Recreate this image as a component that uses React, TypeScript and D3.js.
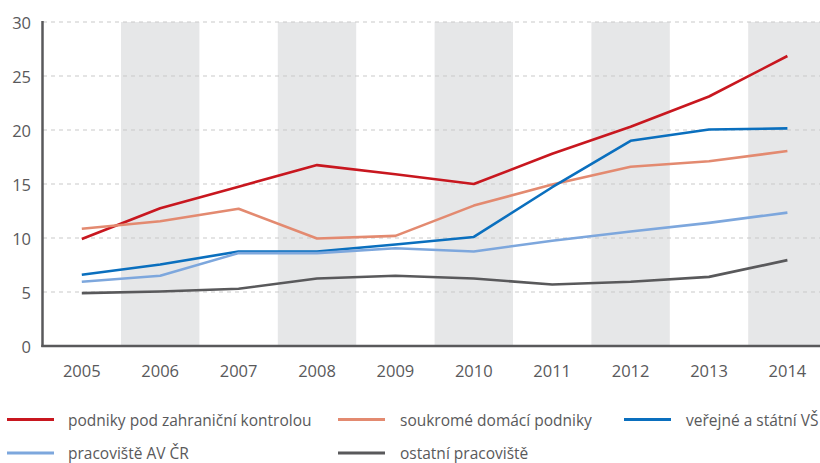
import React from "react";
import * as d3 from "d3";

const years = ["2005","2006","2007","2008","2009","2010","2011","2012","2013","2014"];
const yTicks = [0, 5, 10, 15, 20, 25, 30];

const foreign = [9.9, 12.75, 14.75, 16.75, 15.9, 15.0, 17.8, 20.3, 23.1, 26.85];
const domestic = [10.85, 11.55, 12.7, 9.95, 10.2, 13.0, 14.95, 16.6, 17.1, 18.05];
const universities = [6.6, 7.55, 8.75, 8.75, 9.4, 10.1, 14.7, 19.0, 20.05, 20.15];
const academy = [5.95, 6.5, 8.6, 8.6, 9.05, 8.75, 9.75, 10.6, 11.4, 12.35];
const other = [4.9, 5.05, 5.3, 6.25, 6.5, 6.25, 5.7, 5.95, 6.4, 7.95];

const seriesNames = [
  "podniky pod zahraniční kontrolou",
  "soukromé domácí podniky",
  "veřejné a státní VŠ",
  "pracoviště AV ČR",
  "ostatní pracoviště",
];
const seriesValues = [foreign, domestic, universities, academy, other];
const seriesColors = ["#c8171f", "#e38a70", "#0a6fbe", "#7da7dd", "#59595b"];

const W = 820;
const H = 463;
const FONT = "'Open Sans', sans-serif";
const TEXT = "#59595b";

export default function App() {
  const x = d3.scaleBand<string>().domain(years).range([42.6, 826.6]).padding(0);
  const y = d3.scaleLinear().domain([0, 30]).range([346, 22]);
  const line = d3
    .line<number>()
    .x((_, i) => (x(years[i]) as number) + x.bandwidth() / 2)
    .y((d) => y(d));

  const legendPos = [
    { lx: 7, tx: 68, ly: 419.5 },
    { lx: 338, tx: 400, ly: 419.5 },
    { lx: 624, tx: 686, ly: 419.5 },
    { lx: 7, tx: 68, ly: 453 },
    { lx: 338, tx: 400, ly: 453 },
  ];

  return (
    <svg
      width={W}
      height={H}
      style={{ position: "absolute", left: 0, top: 0, display: "block" }}
      fontFamily={FONT}
    >
      <rect x={0} y={0} width={W} height={H} fill="#ffffff" />
      {years.map((yr, i) =>
        i % 2 === 1 ? (
          <rect
            key={yr}
            x={x(yr)}
            y={y(30)}
            width={x.bandwidth()}
            height={y(0) - y(30)}
            fill="#e6e7e8"
          />
        ) : null
      )}
      {yTicks
        .filter((t) => t > 0)
        .map((t) => (
          <line
            key={t}
            x1={43}
            x2={W}
            y1={y(t)}
            y2={y(t)}
            stroke="#c9c9c9"
            strokeWidth={1}
            strokeDasharray="4,4"
          />
        ))}
      {yTicks.map((t) => (
        <text
          key={t}
          x={31}
          y={y(t)}
          textAnchor="end"
          dominantBaseline="central"
          fontSize={16.5}
          fill={TEXT}
        >
          {t}
        </text>
      ))}
      {years.map((yr) => (
        <text
          key={yr}
          x={(x(yr) as number) + x.bandwidth() / 2}
          y={377}
          textAnchor="middle"
          fontSize={16.5}
          fill={TEXT}
        >
          {yr}
        </text>
      ))}
      {seriesValues.map((vals, i) => (
        <path
          key={i}
          d={line(vals) as string}
          fill="none"
          stroke={seriesColors[i]}
          strokeWidth={2.6}
          strokeLinejoin="round"
        />
      ))}
      <line x1={42.5} x2={42.5} y1={21} y2={347} stroke="#59595b" strokeWidth={2.5} />
      <line x1={41.3} x2={W} y1={346} y2={346} stroke="#59595b" strokeWidth={2.5} />
      {seriesNames.map((name, i) => (
        <g key={name}>
          <line
            x1={legendPos[i].lx}
            x2={legendPos[i].lx + 47}
            y1={legendPos[i].ly}
            y2={legendPos[i].ly}
            stroke={seriesColors[i]}
            strokeWidth={3}
          />
          <text
            x={legendPos[i].tx}
            y={legendPos[i].ly}
            dominantBaseline="central"
            fontSize={15.5}
            fill={TEXT}
          >
            {name}
          </text>
        </g>
      ))}
    </svg>
  );
}
